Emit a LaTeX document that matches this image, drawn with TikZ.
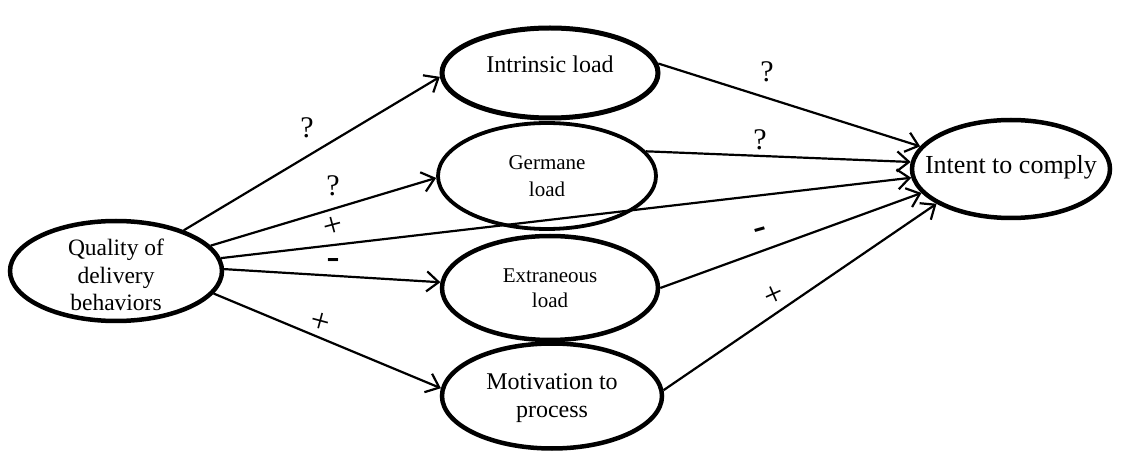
\documentclass[tikz,border=0pt]{standalone}
\usepackage{fontspec}
\setmainfont{Liberation Serif}
\usetikzlibrary{shapes.geometric,arrows.meta}
\begin{document}
\begin{tikzpicture}[x=1pt,y=-1pt,
  oval/.style={ellipse,draw,line width=4.5pt,inner sep=0pt},
  conn/.style={line width=2.2pt,-{Straight Barb[length=12pt,width=20pt]}},
  lab/.style={font=\fontsize{30}{32}\selectfont,inner sep=0pt},
  pluslab/.style={font=\fontsize{34}{36}\selectfont,inner sep=0pt},
  dashlab/.style={font=\fontsize{30}{32}\selectfont\bfseries,inner sep=0pt,xscale=1.3,yscale=1.2}
]
\useasboundingbox (0,0) rectangle (1122,454);

\node[oval,minimum width=212pt,minimum height=100pt,
  label={[align=center,yshift=-4pt,font=\fontsize{23.5}{27.5}\selectfont]center:Quality of\\delivery\\behaviors}] (q) at (116,271) {};
\node[oval,line width=5pt,minimum width=216pt,minimum height=90pt,
  label={[yshift=9pt,font=\fontsize{24}{28}\selectfont]center:Intrinsic load}] (intr) at (550,73) {};
\node[oval,line width=3.8pt,minimum width=218pt,minimum height=106pt,
  label={[align=center,yshift=0pt,font=\fontsize{21}{27}\selectfont]center:Germane\\load}] (germ) at (547,176) {};
\node[oval,minimum width=216pt,minimum height=104pt,
  label={[align=center,yshift=0pt,font=\fontsize{21}{25}\selectfont]center:Extraneous\\load}] (extr) at (550,288) {};
\node[oval,minimum width=220pt,minimum height=105pt,
  label={[align=center,yshift=-2pt,font=\fontsize{24}{28}\selectfont]center:Motivation to\\process}] (mot) at (552,396) {};
\node[oval,minimum width=198pt,minimum height=98pt,
  label={[font=\fontsize{26}{30}\selectfont,yshift=2pt]center:Intent to comply}] (intent) at (1011,169) {};

\draw[conn] (q.31) -- (intr.182);
\draw[conn] (q.15) -- (germ.181);
\draw[conn] (q.7) -- (intent.185);
\draw[conn] (q.1.6) -- (extr.177);
\draw[conn] (q.-13) -- (mot.176);
\draw[conn] (intr.5) -- (intent.166);
\draw[conn] (germ.14) -- (intent.176);
\draw[conn] (extr.0) -- (intent.195);
\draw[conn] (mot.3) -- (intent.205);

\node[lab] (l1) at (307,128) {?};
\node[lab] (l2) at (333,186) {?};
\node[pluslab,rotate=15] (l3) at (333,227) {+};
\node[dashlab] (l4) at (333,264) {-};
\node[pluslab,rotate=-15] (l5) at (320,323) {+};
\node[lab] (l6) at (767,72) {?};
\node[lab] (l7) at (760,140) {?};
\node[dashlab,rotate=17] (l8) at (761,233) {-};
\node[pluslab,rotate=24] (l9) at (774,296) {+};
\end{tikzpicture}
\end{document}
